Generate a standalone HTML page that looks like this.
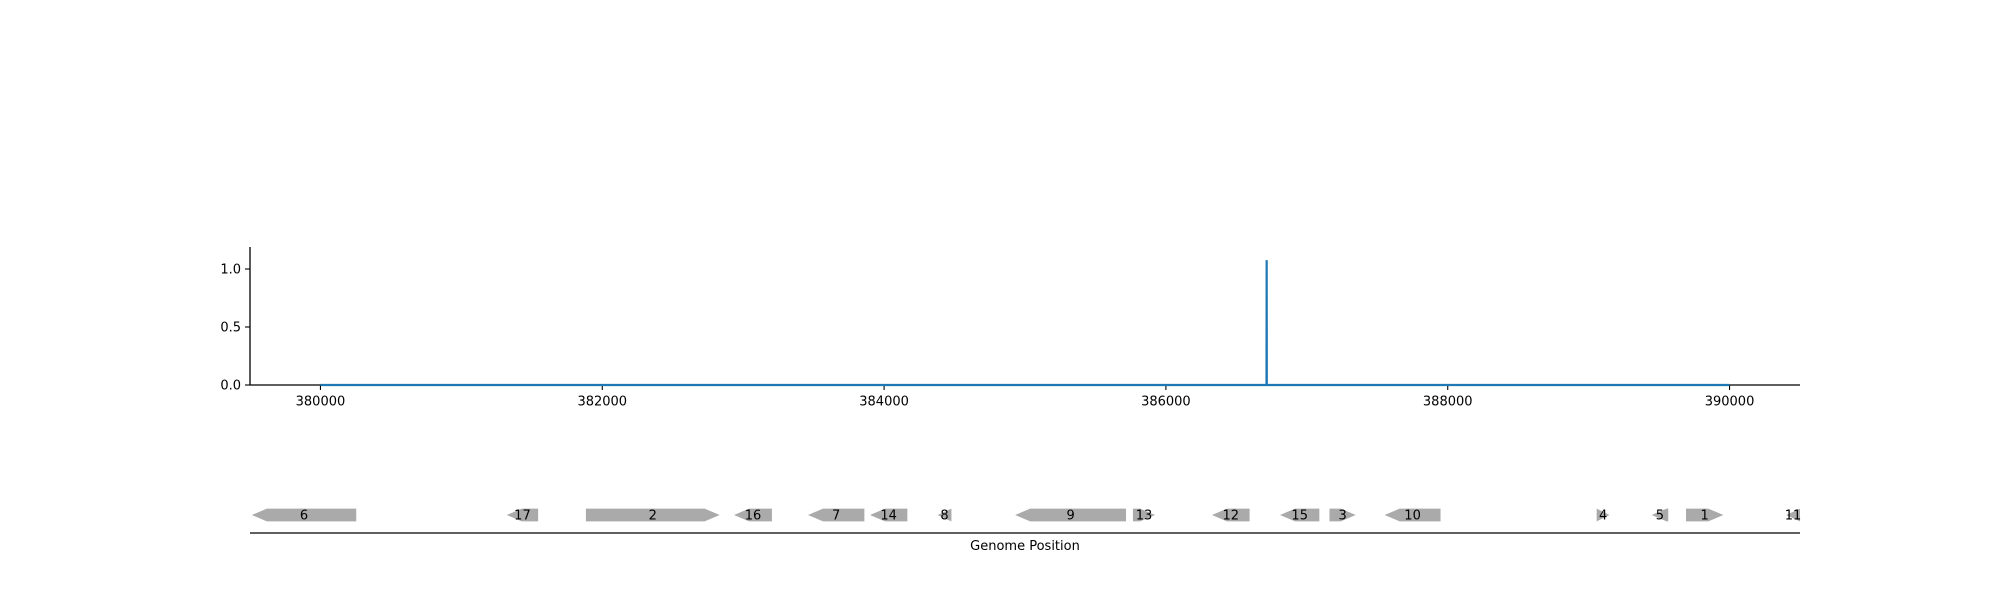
<!DOCTYPE html>
<html><head><meta charset="utf-8"><style>
html,body{margin:0;padding:0;background:#fff;}
svg{display:block;font-family:"DejaVu Sans","Liberation Sans",sans-serif;}
</style></head><body>
<svg id="chart" width="2000" height="600" viewBox="0 0 2000 600" xmlns="http://www.w3.org/2000/svg"></svg>
<script>
const covX = [380000, 386714, 386715, 386716, 390000];
const covY = [0, 0, 1.077, 0, 0];
const xTicks = [380000, 382000, 384000, 386000, 388000, 390000];
const yTicks = [0.0, 0.5, 1.0];
const geneLabels = ["6","17","2","16","7","14","8","9","13","12","15","3","10","4","5","1","11"];
const geneStart = [379513,381322,381884,382935,383460,383900,384380,384930,385766,386327,386810,387161,387552,389057,389447,389691,390401];
const geneEnd   = [380254,381545,382833,383204,383860,384165,384478,385717,385923,386594,387089,387347,387949,389148,389565,389956,390500];
const geneStrand = [-1,-1,1,-1,-1,-1,-1,-1,1,-1,-1,1,-1,1,-1,1,-1];

const NS="http://www.w3.org/2000/svg";
const svg=document.getElementById('chart');
const X0=250,X1=1800, XMIN=379500, XMAX=390500;
const Y0=385, YPX=116;
const FS=13;
const sx=v=>X0+(v-XMIN)/(XMAX-XMIN)*(X1-X0);
const sy=v=>Y0-v*YPX;
function mk(tag,attrs,parent){const e=document.createElementNS(NS,tag);for(const k in attrs)e.setAttribute(k,attrs[k]);(parent||svg).appendChild(e);return e;}

const ySpine=mk('line',{x1:X0,y1:247,x2:X0,y2:Y0,stroke:'#000','stroke-width':1.3});


const xSpine=mk('line',{x1:X0,y1:Y0,x2:X1,y2:Y0,stroke:'#000','stroke-width':1.3});



yTicks.forEach(v=>{
  const t=mk('line',{x1:X0-5,y1:sy(v),x2:X0,y2:sy(v),stroke:'#000','stroke-width':1.1});
  
  
  const l=mk('text',{x:X0-9,y:sy(v)+4.6,'text-anchor':'end','font-size':FS,fill:'#000'});
  l.textContent=v.toFixed(1);
  
  
});
xTicks.forEach(v=>{
  const t=mk('line',{x1:sx(v),y1:Y0,x2:sx(v),y2:Y0+5,stroke:'#000','stroke-width':1.1});
  
  
  const l=mk('text',{x:sx(v),y:Y0+20.5,'text-anchor':'middle','font-size':FS,fill:'#000'});
  l.textContent=String(v);
  
  
});

const pts=covX.map((x,i)=>sx(x).toFixed(2)+','+sy(covY[i]).toFixed(2)).join(' ');
const line=mk('polyline',{points:pts,fill:'none',stroke:'#1f77b4','stroke-width':2.2});



const GY=515, GH=12.7, HEAD=15;
geneLabels.forEach((lab,i)=>{
  const a=sx(geneStart[i]), b=sx(geneEnd[i]);
  const w=b-a, h=Math.min(HEAD,w), t=GY-GH/2, m=GY, bt=GY+GH/2;
  let d;
  if(geneStrand[i]>0){
    d=`M${a},${t} L${b-h},${t} L${b},${m} L${b-h},${bt} L${a},${bt} Z`;
  } else {
    d=`M${b},${t} L${a+h},${t} L${a},${m} L${a+h},${bt} L${b},${bt} Z`;
  }
  const g=mk('g',{});
  
  
  mk('path',{d:d,fill:'#aaaaaa',stroke:'none'},g);
  const tx=mk('text',{x:(a+b)/2,y:GY+4.7,'text-anchor':'middle','font-size':FS,fill:'#000'},g);
  tx.textContent=lab;
});
const base=mk('line',{x1:X0,y1:533,x2:X1,y2:533,stroke:'#000','stroke-width':1.3});


const xt=mk('text',{x:1025,y:550,'text-anchor':'middle','font-size':FS,fill:'#000'});
xt.textContent='Genome Position';


</script>
</body></html>
